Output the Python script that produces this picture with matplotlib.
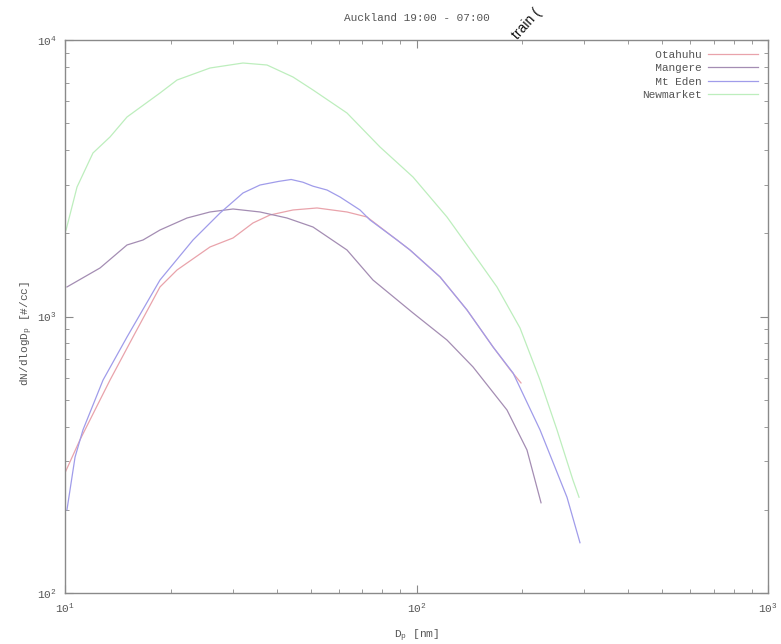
import matplotlib
matplotlib.use("Agg")
import matplotlib.pyplot as plt
from matplotlib.ticker import LogLocator, LogFormatterMathtext, NullFormatter

plt.rcParams['font.family'] = ['Liberation Mono', 'DejaVu Sans']
plt.rcParams['mathtext.default'] = 'regular'

title = "Auckland 19:00 - 07:00"
series_names = ["Otahuhu", "Mangere", "Mt Eden", "Newmarket"]

otahuhu_dp = [10.0, 11.03, 13.43, 15.61, 18.63, 20.83, 25.85, 30.06, 34.26, 38.31, 44.53,
              52.12, 63.42, 72.31, 88.02, 95.83, 116.7, 139.2, 165.1, 185.0, 198.3]
otahuhu_n = [272, 358, 589, 843, 1279, 1473, 1784, 1923, 2179, 2329, 2428,
             2469, 2388, 2290, 1891, 1740, 1390, 1056, 776, 640, 575]

mangere_dp = [10.13, 12.58, 15.01, 16.67, 18.63, 22.24, 25.85, 30.06, 35.87, 42.81, 50.76,
              63.42, 75.19, 97.73, 122.1, 144.8, 180.9, 206.2, 226.1]
mangere_n = [1279, 1498, 1814, 1891, 2055, 2271, 2388, 2448, 2388, 2271, 2107,
             1740, 1355, 1030, 822, 657, 459, 329, 212]

mteden_dp = [10.13, 10.68, 11.25, 12.83, 15.01, 18.63, 23.13, 27.61, 32.09, 35.87, 40.5,
             44.0, 47.5, 50.76, 55.65, 60.60, 69.07, 73.74, 88.02, 95.83, 116.7,
             139.2, 165.1, 188.2, 224.6, 268.0, 291.8]
mteden_n = [200, 310, 389, 589, 843, 1355, 1891, 2367, 2797, 2989, 3080,
            3130, 3060, 2960, 2867, 2705, 2428, 2234, 1891, 1740, 1390,
            1056, 776, 625, 389, 222, 152]

newmarket_dp = [10.07, 10.82, 12.01, 13.43, 15.01, 18.63, 20.83, 25.85, 32.09, 37.56, 44.53,
                50.76, 63.42, 78.74, 97.73, 122.1, 151.6, 169.4, 197.0, 224.6, 251.0,
                278.7, 290.0]
newmarket_n = [2055, 2940, 3902, 4460, 5266, 6431, 7166, 7919, 8256, 8120, 7347,
               6596, 5445, 4102, 3195, 2290, 1561, 1279, 909, 589, 389,
               256, 222]

colors = ["#e9a3ab", "#a48db3", "#a09cea", "#bdeebd"]
label_padded = ["  Otahuhu", "  Mangere", "  Mt Eden", "Newmarket"]

W, H = 781, 644
fig = plt.figure(figsize=(W / 100, H / 100), dpi=100)
ax = fig.add_axes([65 / W, 1 - 593 / H, (768 - 65) / W, (593 - 40) / H])

data = [(otahuhu_dp, otahuhu_n), (mangere_dp, mangere_n),
        (mteden_dp, mteden_n), (newmarket_dp, newmarket_n)]
for (x, y), c, lab in zip(data, colors, label_padded):
    ax.plot(x, y, color=c, lw=0.9, label=lab)

ax.set_xscale('log')
ax.set_yscale('log')
ax.set_xlim(10, 1000)
ax.set_ylim(100, 10000)

txtc = "#555555"
axc = "#8a8a8a"
for s in ax.spines.values():
    s.set_color(axc)
    s.set_linewidth(1.0)

for axis in (ax.xaxis, ax.yaxis):
    axis.set_major_locator(LogLocator(base=10, numticks=10))
    axis.set_minor_locator(LogLocator(base=10, subs=range(2, 10), numticks=20))
    axis.set_major_formatter(LogFormatterMathtext())
    axis.set_minor_formatter(NullFormatter())

ax.tick_params(which='both', direction='in', top=True, right=True, colors=axc,
               labelcolor=txtc, labelsize=8)
ax.tick_params(which='major', length=6, width=0.8, pad=6)
ax.tick_params(which='minor', length=3, width=0.6)

ax.set_xlabel("D$_p$ [nm]", color=txtc, fontsize=8)
ax.xaxis.set_label_coords(0.5, -0.062)
ax.set_ylabel("dN/dlogD$_p$ [#/cc]", color=txtc, fontsize=8)
ax.yaxis.set_label_coords(-0.043, 0.47)

ax.set_title(title, color=txtc, fontsize=8, pad=14)

leg = ax.legend(loc='upper right', frameon=False, markerfirst=False, fontsize=8,
                handlelength=4.5, handletextpad=0.6, labelspacing=0.3,
                borderaxespad=0.5)
for t in leg.get_texts():
    t.set_color(txtc)

fig.text(518 / W, 1 - 40 / H, "train (", rotation=48, rotation_mode='anchor',
         ha='left', va='baseline', fontsize=10, color='#111111',
         family=['Liberation Sans', 'DejaVu Sans'])

fig.savefig("out.png", dpi=100, facecolor='white')
